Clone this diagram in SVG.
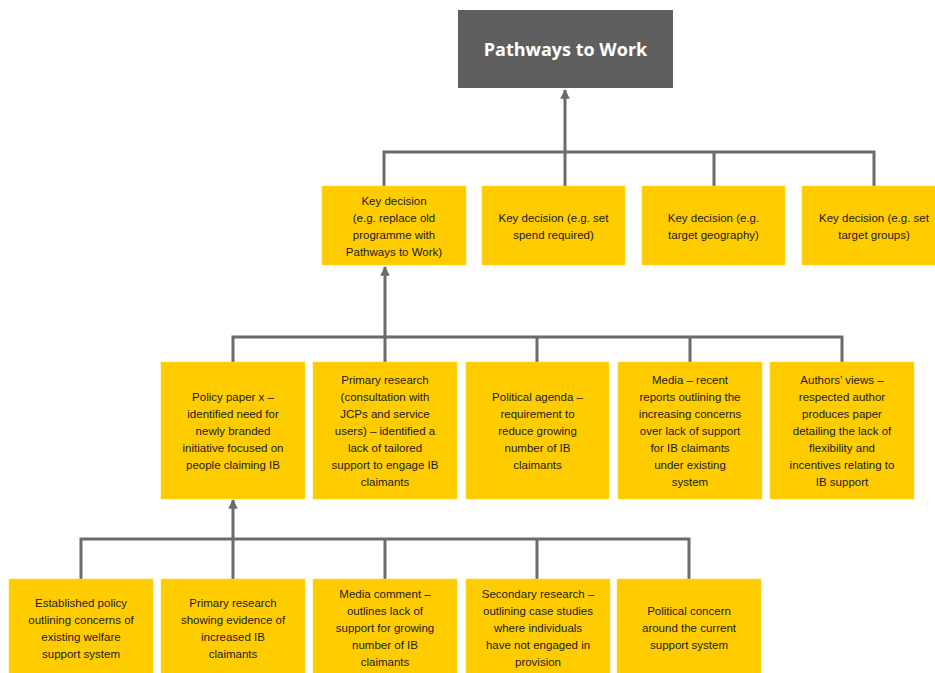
<svg xmlns="http://www.w3.org/2000/svg" width="935" height="673" viewBox="0 0 935 673">
<style>
.box{fill:#ffcc00;stroke:#ffd633;stroke-width:0.5}
.t{font-family:"Liberation Sans",Arial,sans-serif;font-size:11.5px;fill:#1a1a1a;text-anchor:middle}
.title{font-family:"Open Sans","Liberation Sans",sans-serif;font-size:18px;font-weight:bold;fill:#ffffff;text-anchor:middle}
.ln{fill:none;stroke:#6b6b6b;stroke-width:3}
</style>
<defs>
<marker id="ah" viewBox="0 0 10 10" refX="9" refY="5" markerWidth="3.2" markerHeight="3.2" orient="auto" markerUnits="strokeWidth">
<path d="M0,0 L10,5 L0,10 z" fill="#6b6b6b"/>
</marker>
</defs>
<rect width="935" height="673" fill="#ffffff"/>
<g id="connectors">
<path class="ln" d="M384,186 V152 H874 V186 M714,152 V186"/>
<path class="ln" d="M565,186 V90" marker-end="url(#ah)"/>
<path class="ln" d="M233,362 V337 H842 V362 M537,337 V362 M690,337 V362"/>
<path class="ln" d="M385,362 V267" marker-end="url(#ah)"/>
<path class="ln" d="M81,579 V539 H689 V579 M385,539 V579 M537,539 V579"/>
<path class="ln" d="M233,579 V500" marker-end="url(#ah)"/>
</g>
<g id="top">
<rect x="458" y="10" width="215" height="78" fill="#5f5f5f"/>
<text class="title" x="565.5" y="56">Pathways to Work</text>
</g>
<g id="kd1">
<rect class="box" x="322" y="186" width="144" height="79"/>
<text class="t" x="394" y="205">Key decision</text>
<text class="t" x="394" y="222">(e.g. replace old</text>
<text class="t" x="394" y="239">programme with</text>
<text class="t" x="394" y="256">Pathways to Work)</text>
</g>
<g id="kd2">
<rect class="box" x="482" y="186" width="143" height="79"/>
<text class="t" x="553.5" y="222">Key decision (e.g. set</text>
<text class="t" x="553.5" y="239">spend required)</text>
</g>
<g id="kd3">
<rect class="box" x="642" y="186" width="143" height="79"/>
<text class="t" x="713.5" y="222">Key decision (e.g.</text>
<text class="t" x="713.5" y="239">target geography)</text>
</g>
<g id="kd4">
<rect class="box" x="802" y="186" width="144" height="79"/>
<text class="t" x="874" y="222">Key decision (e.g. set</text>
<text class="t" x="874" y="239">target groups)</text>
</g>
<g id="r2a">
<rect class="box" x="161" y="362" width="144" height="137"/>
<text class="t" x="233" y="401">Policy paper x –</text>
<text class="t" x="233" y="418">identified need for</text>
<text class="t" x="233" y="435">newly branded</text>
<text class="t" x="233" y="452">initiative focused on</text>
<text class="t" x="233" y="469">people claiming IB</text>
</g>
<g id="r2b">
<rect class="box" x="313" y="362" width="144" height="137"/>
<text class="t" x="385" y="384">Primary research</text>
<text class="t" x="385" y="401">(consultation with</text>
<text class="t" x="385" y="418">JCPs and service</text>
<text class="t" x="385" y="435">users) – identified a</text>
<text class="t" x="385" y="452">lack of tailored</text>
<text class="t" x="385" y="469">support to engage IB</text>
<text class="t" x="385" y="486">claimants</text>
</g>
<g id="r2c">
<rect class="box" x="466" y="362" width="143" height="137"/>
<text class="t" x="537.5" y="401">Political agenda –</text>
<text class="t" x="537.5" y="418">requirement to</text>
<text class="t" x="537.5" y="435">reduce growing</text>
<text class="t" x="537.5" y="452">number of IB</text>
<text class="t" x="537.5" y="469">claimants</text>
</g>
<g id="r2d">
<rect class="box" x="618" y="362" width="144" height="137"/>
<text class="t" x="690" y="384">Media – recent</text>
<text class="t" x="690" y="401">reports outlining the</text>
<text class="t" x="690" y="418">increasing concerns</text>
<text class="t" x="690" y="435">over lack of support</text>
<text class="t" x="690" y="452">for IB claimants</text>
<text class="t" x="690" y="469">under existing</text>
<text class="t" x="690" y="486">system</text>
</g>
<g id="r2e">
<rect class="box" x="770" y="362" width="144" height="137"/>
<text class="t" x="842" y="384">Authors’ views –</text>
<text class="t" x="842" y="401">respected author</text>
<text class="t" x="842" y="418">produces paper</text>
<text class="t" x="842" y="435">detailing the lack of</text>
<text class="t" x="842" y="452">flexibility and</text>
<text class="t" x="842" y="469">incentives relating to</text>
<text class="t" x="842" y="486">IB support</text>
</g>
<g id="r3a">
<rect class="box" x="9" y="579" width="144" height="96"/>
<text class="t" x="81" y="607">Established policy</text>
<text class="t" x="81" y="624">outlining concerns of</text>
<text class="t" x="81" y="641">existing welfare</text>
<text class="t" x="81" y="658">support system</text>
</g>
<g id="r3b">
<rect class="box" x="161" y="579" width="144" height="96"/>
<text class="t" x="233" y="607">Primary research</text>
<text class="t" x="233" y="624">showing evidence of</text>
<text class="t" x="233" y="641">increased IB</text>
<text class="t" x="233" y="658">claimants</text>
</g>
<g id="r3c">
<rect class="box" x="313" y="579" width="144" height="96"/>
<text class="t" x="385" y="598">Media comment –</text>
<text class="t" x="385" y="615">outlines lack of</text>
<text class="t" x="385" y="632">support for growing</text>
<text class="t" x="385" y="649">number of IB</text>
<text class="t" x="385" y="666">claimants</text>
</g>
<g id="r3d">
<rect class="box" x="466" y="579" width="144" height="96"/>
<text class="t" x="538" y="598">Secondary research –</text>
<text class="t" x="538" y="615">outlining case studies</text>
<text class="t" x="538" y="632">where individuals</text>
<text class="t" x="538" y="649">have not engaged in</text>
<text class="t" x="538" y="666">provision</text>
</g>
<g id="r3e">
<rect class="box" x="617" y="579" width="144" height="96"/>
<text class="t" x="689" y="615">Political concern</text>
<text class="t" x="689" y="632">around the current</text>
<text class="t" x="689" y="649">support system</text>
</g>
</svg>
